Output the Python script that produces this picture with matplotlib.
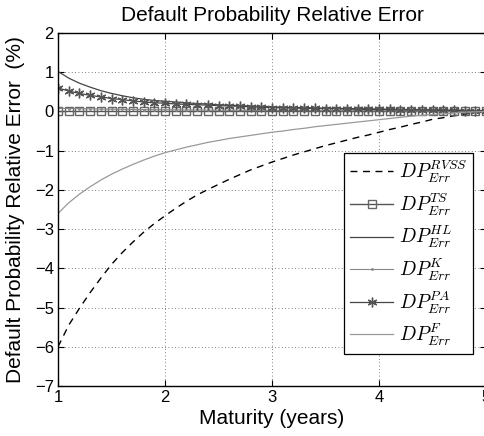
import numpy as np
import matplotlib
matplotlib.use("Agg")
import matplotlib.pyplot as plt

plt.rcParams['font.family'] = ['Liberation Sans', 'DejaVu Sans']
plt.rcParams['mathtext.fontset'] = 'cm'

maturity = [1.0, 1.1, 1.2, 1.3, 1.4, 1.5, 1.6, 1.7, 1.8, 1.9,
            2.0, 2.1, 2.2, 2.3, 2.4, 2.5, 2.6, 2.7, 2.8, 2.9,
            3.0, 3.1, 3.2, 3.3, 3.4, 3.5, 3.6, 3.7, 3.8, 3.9,
            4.0, 4.1, 4.2, 4.3, 4.4, 4.5, 4.6, 4.7, 4.8, 4.9, 5.0]

dp_rvss = [-6.00, -5.45, -5.02, -4.62, -4.25, -3.90, -3.60, -3.33, -3.08, -2.86,
           -2.66, -2.47, -2.29, -2.13, -1.99, -1.86, -1.73, -1.61, -1.49, -1.39,
           -1.29, -1.20, -1.11, -1.03, -0.95, -0.87, -0.80, -0.73, -0.66, -0.60,
           -0.53, -0.46, -0.40, -0.33, -0.27, -0.20, -0.16, -0.11, -0.07, -0.03, 0.00]

dp_ts = [0.01] * 41

dp_hl = [1.02, 0.85, 0.72, 0.62, 0.53, 0.46, 0.40, 0.35, 0.31, 0.28,
         0.26, 0.24, 0.22, 0.20, 0.19, 0.17, 0.16, 0.15, 0.14, 0.13,
         0.12, 0.11, 0.10, 0.10, 0.09, 0.08, 0.08, 0.07, 0.07, 0.06,
         0.06, 0.05, 0.05, 0.04, 0.04, 0.04, 0.03, 0.03, 0.03, 0.02, 0.02]

dp_k = [0.08, 0.075, 0.07, 0.065, 0.06, 0.057, 0.054, 0.051, 0.048, 0.045,
        0.043, 0.041, 0.039, 0.037, 0.035, 0.033, 0.031, 0.030, 0.029, 0.028,
        0.027, 0.026, 0.025, 0.024, 0.023, 0.022, 0.021, 0.020, 0.019, 0.018,
        0.017, 0.016, 0.015, 0.014, 0.013, 0.012, 0.011, 0.010, 0.010, 0.010, 0.010]

dp_pa = [0.60, 0.52, 0.46, 0.41, 0.37, 0.33, 0.30, 0.27, 0.24, 0.22,
         0.21, 0.19, 0.18, 0.17, 0.16, 0.15, 0.14, 0.13, 0.12, 0.11,
         0.10, 0.09, 0.09, 0.08, 0.08, 0.07, 0.07, 0.06, 0.06, 0.05,
         0.05, 0.05, 0.04, 0.04, 0.04, 0.03, 0.03, 0.03, 0.02, 0.02, 0.02]

dp_f = [-2.60, -2.33, -2.11, -1.92, -1.75, -1.60, -1.47, -1.35, -1.24, -1.14,
        -1.05, -0.98, -0.91, -0.85, -0.79, -0.74, -0.69, -0.65, -0.61, -0.57,
        -0.53, -0.50, -0.46, -0.43, -0.39, -0.36, -0.33, -0.30, -0.27, -0.24,
        -0.21, -0.18, -0.15, -0.12, -0.10, -0.08, -0.06, -0.04, -0.02, -0.01, 0.00]

labels = [r'$DP^{RVSS}_{Err}$', r'$DP^{TS}_{Err}$', r'$DP^{HL}_{Err}$',
          r'$DP^{K}_{Err}$', r'$DP^{PA}_{Err}$', r'$DP^{F}_{Err}$']

fig = plt.figure(figsize=(4.85, 4.36), dpi=100)
ax = fig.add_axes([0.1196, 0.1147, 0.8826, 0.8096])

ax.plot(maturity, dp_rvss, color='black', linestyle=(0, (5, 4)), lw=1.0, label=labels[0])
ax.plot(maturity, dp_ts, color='#555555', lw=1.0, marker='s', markersize=6,
        markerfacecolor='none', markeredgecolor='#666666', markeredgewidth=1.0, label=labels[1])
ax.plot(maturity, dp_hl, color='#444444', lw=0.9, label=labels[2])
ax.plot(maturity, dp_k, color='#888888', lw=0.8, marker='.', markersize=2, label=labels[3])
ax.plot(maturity, dp_pa, color='#444444', lw=0.9, marker=(6, 2, 0), markersize=7,
        markerfacecolor='#555555', markeredgecolor='#555555', markeredgewidth=1.0, label=labels[4])
ax.plot(maturity, dp_f, color='#999999', lw=0.9, label=labels[5])

ax.set_xlim(1, 5)
ax.set_ylim(-7, 2)
ax.set_xticks([1, 2, 3, 4, 5])
ax.set_yticks(range(-7, 3))
ax.grid(True, linestyle=(0, (1, 3)), color='#555555', lw=0.6)
ax.tick_params(direction='in', length=4, top=True, right=True, labelsize=12, width=0.8, pad=3)
for s in ax.spines.values():
    s.set_linewidth(1.0)

ax.set_title('Default Probability Relative Error', fontsize=15, pad=9)
ax.set_xlabel('Maturity (years)', fontsize=15, labelpad=3)
ax.set_ylabel('Default Probability Relative Error  (%)', fontsize=15, labelpad=7)

leg = ax.legend(loc='upper right', bbox_to_anchor=(0.9696, 0.66), borderaxespad=0,
                fontsize=14, fancybox=False, edgecolor='black', framealpha=1,
                handlelength=2.2, handletextpad=0.3, labelspacing=0.33, borderpad=0.3)
leg.get_frame().set_linewidth(0.9)

fig.savefig('out.png', dpi=100)
